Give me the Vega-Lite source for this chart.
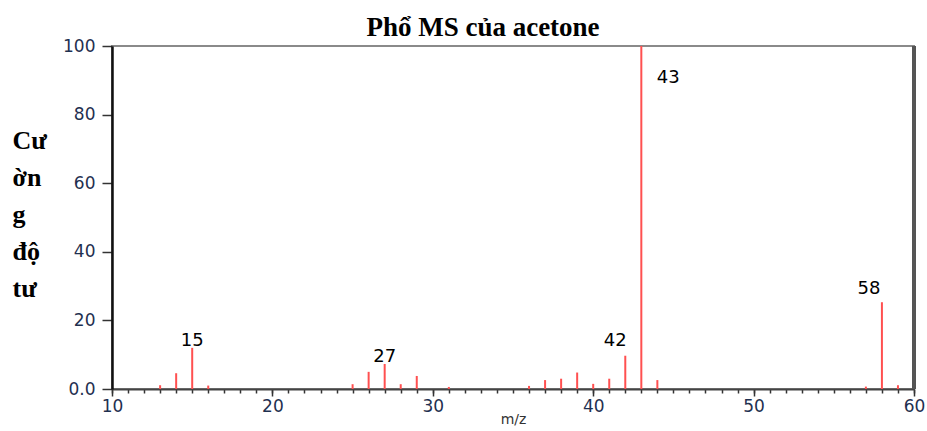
{
  "$schema": "https://vega.github.io/schema/vega-lite/v6.json",
  "width": 802,
  "height": 343,
  "autosize": {"type": "none"},
  "padding": {"left": 112, "top": 46, "right": 13, "bottom": 42},
  "background": "white",
  "title": {
    "text": "Phổ MS của acetone",
    "font": "Liberation Serif",
    "fontSize": 27,
    "fontWeight": "bold",
    "color": "#000000",
    "anchor": "middle",
    "dx": -30,
    "baseline": "alphabetic",
    "offset": -26
  },
  "config": {"view": {"stroke": "#8a8a8a", "strokeWidth": 2}},
  "resolve": {"axis": {"x": "independent"}},
  "data": {
    "values": [
      {"mz": 13, "intensity": 1.1},
      {"mz": 14, "intensity": 4.6},
      {"mz": 15, "intensity": 12.0},
      {"mz": 16, "intensity": 1.0},
      {"mz": 25, "intensity": 1.4},
      {"mz": 26, "intensity": 5.0},
      {"mz": 27, "intensity": 7.3},
      {"mz": 28, "intensity": 1.4},
      {"mz": 29, "intensity": 3.8},
      {"mz": 31, "intensity": 0.6},
      {"mz": 36, "intensity": 0.9},
      {"mz": 37, "intensity": 2.6},
      {"mz": 38, "intensity": 3.0},
      {"mz": 39, "intensity": 4.8},
      {"mz": 40, "intensity": 1.5},
      {"mz": 41, "intensity": 3.0},
      {"mz": 42, "intensity": 9.7},
      {"mz": 43, "intensity": 100},
      {"mz": 44, "intensity": 2.6},
      {"mz": 57, "intensity": 0.7},
      {"mz": 58, "intensity": 25.3},
      {"mz": 59, "intensity": 1.1}
    ]
  },
  "layer": [
    {
      "mark": {"type": "rule", "color": "#555555", "strokeWidth": 3},
      "encoding": {
        "x": {
          "datum": 60,
          "type": "quantitative",
          "scale": {"domain": [10, 60], "nice": false, "zero": false},
          "axis": {
            "orient": "bottom",
            "title": null,
            "values": [10,11,12,13,14,15,16,17,18,19,20,21,22,23,24,25,26,27,28,29,30,31,32,33,34,35,36,37,38,39,40,41,42,43,44,45,46,47,48,49,50,51,52,53,54,55,56,57,58,59,60],
            "labels": false,
            "domain": false,
            "grid": false,
            "tickSize": 4,
            "tickColor": "#333333",
            "tickWidth": 1.5
          }
        }
      }
    },
    {
      "mark": {"type": "rule", "color": "#ff5050", "strokeWidth": 2},
      "encoding": {
        "x": {
          "field": "mz",
          "type": "quantitative",
          "scale": {"domain": [10, 60], "nice": false, "zero": false},
          "axis": {
            "orient": "bottom",
            "title": "m/z",
            "values": [10, 20, 30, 40, 50, 60],
            "labelOverlap": false,
            "labelFlush": false,
            "labelBound": false,
            "tickSize": 7,
            "tickColor": "#333333",
            "tickWidth": 1.5,
            "domainColor": "#444444",
            "domainWidth": 2,
            "grid": false,
            "labelFont": "DejaVu Sans",
            "labelFontSize": 17,
            "labelColor": "#1f3050",
            "labelPadding": 2,
            "titleFont": "DejaVu Sans",
            "titleFontSize": 14,
            "titleFontWeight": "normal",
            "titleColor": "#333333",
            "titlePadding": -2
          }
        },
        "y": {
          "field": "intensity",
          "type": "quantitative",
          "scale": {"domain": [0, 100], "nice": false},
          "axis": {
            "title": ["Cư", "ờn", "g", "độ", "tư"],
            "values": [0,5,10,15,20,25,30,35,40,45,50,55,60,65,70,75,80,85,90,95,100],
            "labelExpr": "datum.value == 0 ? '0.0' : (datum.value % 20 == 0 ? datum.label : '')",
            "labelOverlap": false,
            "labelFlush": false,
            "tickSize": {"condition": {"test": "datum.value % 20 == 0", "value": 10}, "value": 5},
            "tickColor": "#333333",
            "tickWidth": 1.5,
            "domainColor": "#111111",
            "domainWidth": 2.5,
            "grid": false,
            "labelFont": "DejaVu Sans",
            "labelFontSize": 17,
            "labelColor": "#1f3050",
            "labelPadding": 7,
            "titleAngle": 0,
            "titleAlign": "left",
            "titleBaseline": "alphabetic",
            "titleX": -100,
            "titleY": 102,
            "titleFont": "Liberation Serif",
            "titleFontSize": 26,
            "titleFontWeight": "bold",
            "titleLineHeight": 37,
            "titleColor": "#000000"
          }
        },
        "y2": {"datum": 0}
      }
    },
    {
      "transform": [{"filter": "datum.mz == 15 || datum.mz == 27"}],
      "mark": {"type": "text", "font": "DejaVu Sans", "fontSize": 18, "color": "#000000", "baseline": "bottom", "align": "center", "dy": 2},
      "encoding": {
        "x": {"field": "mz", "type": "quantitative", "axis": null},
        "y": {"field": "intensity", "type": "quantitative"},
        "text": {"field": "mz", "type": "quantitative", "format": "d"}
      }
    },
    {
      "transform": [{"filter": "datum.mz == 42"}],
      "mark": {"type": "text", "font": "DejaVu Sans", "fontSize": 18, "color": "#000000", "baseline": "bottom", "align": "center", "dx": -10, "dy": -6},
      "encoding": {
        "x": {"field": "mz", "type": "quantitative", "axis": null},
        "y": {"field": "intensity", "type": "quantitative"},
        "text": {"field": "mz", "type": "quantitative", "format": "d"}
      }
    },
    {
      "transform": [{"filter": "datum.mz == 58"}],
      "mark": {"type": "text", "font": "DejaVu Sans", "fontSize": 18, "color": "#000000", "baseline": "bottom", "align": "center", "dx": -13, "dy": -4},
      "encoding": {
        "x": {"field": "mz", "type": "quantitative", "axis": null},
        "y": {"field": "intensity", "type": "quantitative"},
        "text": {"field": "mz", "type": "quantitative", "format": "d"}
      }
    },
    {
      "transform": [{"filter": "datum.mz == 43"}],
      "mark": {"type": "text", "font": "DejaVu Sans", "fontSize": 18, "color": "#000000", "baseline": "top", "align": "center", "dx": 27, "dy": 23},
      "encoding": {
        "x": {"field": "mz", "type": "quantitative", "axis": null},
        "y": {"field": "intensity", "type": "quantitative"},
        "text": {"field": "mz", "type": "quantitative", "format": "d"}
      }
    }
  ]
}
